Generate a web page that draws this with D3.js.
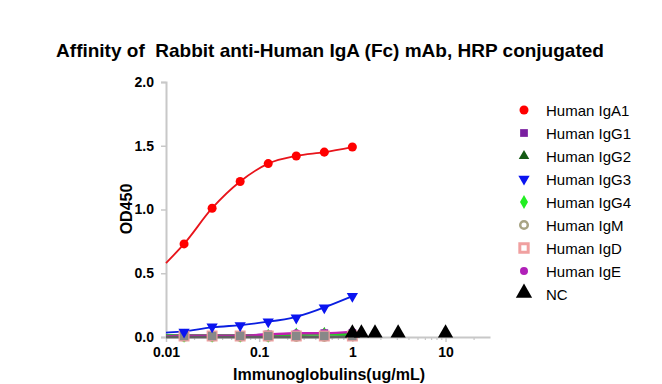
<!DOCTYPE html>
<html>
<head>
<meta charset="utf-8">
<script src="https://cdn.jsdelivr.net/npm/d3@7"></script>
<style>
body{margin:0;background:#fff;}
text{font-family:"Liberation Sans",Arial,sans-serif;}
</style>
</head>
<body>
<svg width="662" height="384"></svg>
<script>
// dilution points (ug/mL)
var conc = [0.015625, 0.03125, 0.0625, 0.125, 0.25, 0.5, 1];
var igA1 = [0.73, 1.01, 1.22, 1.36, 1.42, 1.45, 1.49];
var igG1 = [0.01, 0.01, 0.01, 0.02, 0.02, 0.03, 0.03];
var igG2 = [0.01, 0.01, 0.01, 0.01, 0.02, 0.03, 0.03];
var igG3 = [0.04, 0.08, 0.09, 0.12, 0.15, 0.23, 0.32];
var igG4 = [0.01, 0.01, 0.01, 0.01, 0.02, 0.02, 0.02];
var igM  = [0.00, 0.00, 0.00, 0.00, 0.00, 0.00, 0.01];
var igD  = [0.00, 0.00, 0.00, 0.00, 0.00, 0.00, 0.00];
var igE  = [0.01, 0.01, 0.01, 0.02, 0.03, 0.03, 0.04];
var ncConc = [1, 1.25, 1.75, 3.1, 10];
var ncVals = [0, 0, 0, 0, 0];
// fitted curve value read at the left edge (0.01 ug/mL)
var fitStart = {IgA1:0.58, IgG3:0.035, IgG1:0.01, IgG2:0.01, IgG4:0.01, IgM:0.0, IgD:0.0, IgE:0.005};

var names = ["Human IgA1","Human IgG1","Human IgG2","Human IgG3","Human IgG4","Human IgM","Human IgD","Human IgE","NC"];
var yTicks = [0, 0.5, 1.0, 1.5, 2.0];
var xTicks = [0.01, 0.1, 1, 10];

var series = [
  {name:names[0], key:"IgA1", vals:igA1, color:"#e8141b", sym:d3.symbolCircle, size:64, fill:"#ff0000", stroke:"none", curve:d3.curveMonotoneX},
  {name:names[1], key:"IgG1", vals:igG1, color:"#7a1fa0", sym:d3.symbolSquare, size:60, fill:"#7a1fa0", stroke:"none"},
  {name:names[2], key:"IgG2", vals:igG2, color:"#1f6b1f", sym:d3.symbolTriangle, size:48, fill:"#145a14", stroke:"none"},
  {name:names[3], key:"IgG3", vals:igG3, color:"#0a1ee0", sym:d3.symbolTriangle, size:55, fill:"#0a14f0", stroke:"none", flip:true, curve:d3.curveBasis},
  {name:names[4], key:"IgG4", vals:igG4, color:"#22d022", sym:d3.symbolDiamond, size:55, fill:"#22ee22", stroke:"none"},
  {name:names[5], key:"IgM", vals:igM, color:"#606060", sym:d3.symbolCircle, size:45, fill:"#fff", stroke:"#a8a484", sw:2.5},
  {name:names[6], key:"IgD", vals:igD, color:"#606060", sym:d3.symbolSquare, size:95, fill:"#888888", stroke:"#f0a0a0", sw:1.2, legendFill:"#fff", legendSw:3, legendSize:70},
  {name:names[7], key:"IgE", vals:igE, color:"#c020b0", sym:d3.symbolCircle, size:50, fill:"#b020b8", stroke:"none"}
];

var svg = d3.select("svg");
var margin = {left:166, right:490, top:82, bot:337};

var x = d3.scaleLog().domain([0.01, 30]).range([margin.left, margin.right]);
var y = d3.scaleLinear().domain([0, 2]).range([margin.bot, margin.top]);

// title
svg.append("text").attr("x", 330).attr("y", 57).attr("text-anchor","middle").style("white-space","pre")
   .attr("font-size", 19).attr("font-weight","bold").text("Affinity of  Rabbit anti-Human IgA (Fc) mAb, HRP conjugated");

// y axis
var yAxis = d3.axisLeft(y).tickValues(yTicks).tickFormat(d3.format(".1f")).tickSize(5).tickPadding(7);
var gy = svg.append("g").attr("transform","translate("+margin.left+",0)").call(yAxis);
gy.select(".domain").attr("stroke","#c8c8c8").attr("stroke-width",2);
gy.selectAll(".tick line").attr("stroke","#c8c8c8").attr("stroke-width",1.5);
gy.selectAll(".tick text").attr("font-size",14).attr("font-weight","bold").attr("fill","#000")
  .attr("font-family","Liberation Sans, Arial, sans-serif");

// x axis: minor ticks
var minor = [];
for (var e = -2; e <= 1; e++) { for (var m = 2; m <= 9; m++) { var v = m*Math.pow(10,e); if (v < 30) minor.push(v); } }
var gxm = svg.append("g").attr("transform","translate(0,"+margin.bot+")")
  .call(d3.axisBottom(x).tickValues(minor).tickSize(3).tickFormat(""));
gxm.select(".domain").remove();
gxm.selectAll(".tick line").attr("stroke","#c8c8c8").attr("stroke-width",1.2);

var gx = svg.append("g").attr("transform","translate(0,"+margin.bot+")")
  .call(d3.axisBottom(x).tickValues(xTicks).tickFormat(function(d){return d<1?String(d):d3.format("d")(d);}).tickSize(5).tickSizeOuter(0).tickPadding(5));
gx.select(".domain").attr("stroke","#c8c8c8").attr("stroke-width",2);
gx.selectAll(".tick line").attr("stroke","#c8c8c8").attr("stroke-width",1.5);
gx.selectAll(".tick text").attr("font-size",14).attr("font-weight","bold").attr("fill","#000")
  .attr("font-family","Liberation Sans, Arial, sans-serif");

// axis labels
svg.append("text").attr("x", 329).attr("y", 380).attr("text-anchor","middle")
   .attr("font-size",16).attr("font-weight","bold").text("Immunoglobulins(ug/mL)");
svg.append("text").attr("transform","translate(132,209) rotate(-90)").attr("text-anchor","middle")
   .attr("font-size",16).attr("font-weight","bold").text("OD450");

// curves, low series drawn first
var order = [5,1,2,4,7,6,3,0];
order.forEach(function(i){
  var s = series[i];
  var line = d3.line().x(function(d){return x(d[0]);}).y(function(d){return y(d[1]);}).curve(s.curve||d3.curveMonotoneX);
  var pts = [[0.01, fitStart[s.key]]].concat(conc.map(function(c,j){return [c, s.vals[j]];}));
  svg.append("path").attr("d", line(pts)).attr("fill","none")
     .attr("stroke", s.color).attr("stroke-width", i===0||i===3 ? 1.8 : 2.4);
});

// markers
order.forEach(function(i){
  var s = series[i];
  var sym = d3.symbol().type(s.sym).size(s.size);
  svg.append("g").selectAll("path").data(conc).join("path")
     .attr("d", sym)
     .attr("transform", function(c,j){ return "translate("+x(c)+","+(y(s.vals[j])-(i===6?1:0))+")"+(s.flip?" rotate(180)":""); })
     .attr("fill", s.fill).attr("stroke", s.stroke).attr("stroke-width", s.sw||0);
});

// NC
var tri = d3.symbol().type(d3.symbolTriangle).size(100);
svg.append("g").selectAll("path").data(ncConc).join("path")
   .attr("d", tri)
   .attr("transform", function(c,j){ return "translate("+x(c)+","+(y(ncVals[j])-4)+")"; })
   .attr("fill","#000");

// legend
var lg = svg.append("g");
var rowY = function(i){ return 110 + i*23; };
series.forEach(function(s,i){
  lg.append("path").attr("d", d3.symbol().type(s.sym).size(s.legendSize||s.size)())
    .attr("transform","translate(524,"+rowY(i)+")"+(s.flip?" rotate(180)":""))
    .attr("fill", s.legendFill||s.fill).attr("stroke", s.stroke).attr("stroke-width", s.legendSw||s.sw||0);
  lg.append("text").attr("x",546).attr("y",rowY(i)+5.5).attr("font-size",15).text(s.name);
});
lg.append("path").attr("d", d3.symbol().type(d3.symbolTriangle).size(115)())
  .attr("transform","translate(524,"+(rowY(8)-1)+")").attr("fill","#000");
lg.append("text").attr("x",546).attr("y",rowY(8)+5.5).attr("font-size",15).text(names[8]);
</script>
</body>
</html>
